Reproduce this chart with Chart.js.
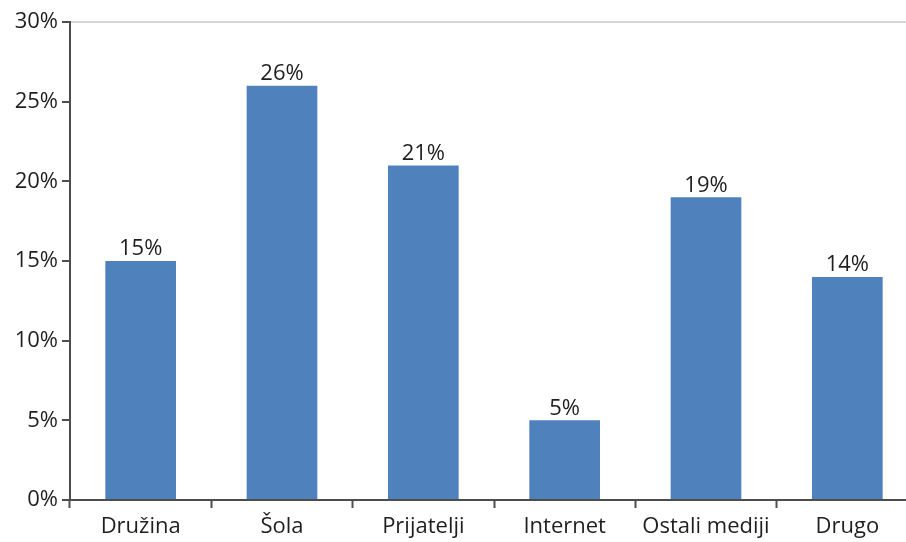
<!DOCTYPE html>
<html>
<head>
<meta charset="utf-8">
<script src="https://cdn.jsdelivr.net/npm/chart.js@4/dist/chart.umd.min.js"></script>
<style>
  html, body { margin: 0; padding: 0; background: #fff; overflow: hidden; }
  #wrap { width: 920px; height: 542px; position: relative; }
</style>
</head>
<body>
<div id="wrap"><canvas id="c"></canvas></div>
<script>
const categories = ['Družina', 'Šola', 'Prijatelji', 'Internet', 'Ostali mediji', 'Drugo'];
const shares = [15, 26, 21, 5, 19, 14];
const yTicks = [0, 5, 10, 15, 20, 25, 30];

const FONT = "'Open Sans', 'Noto Sans', sans-serif";
const TEXT = '#1f1f1f';
const AXIS = '#4d4d4d';

// writes each bar's value just above it
const valueLabels = {
  id: 'valueLabels',
  afterDatasetsDraw(chart) {
    const { ctx } = chart;
    const meta = chart.getDatasetMeta(0);
    ctx.save();
    ctx.font = '22px ' + FONT;
    ctx.fillStyle = TEXT;
    ctx.textAlign = 'center';
    ctx.textBaseline = 'bottom';
    meta.data.forEach((bar, i) => {
      ctx.fillText(shares[i] + '%', bar.x, bar.y - 1);
    });
    ctx.restore();
  }
};

new Chart(document.getElementById('c'), {
  type: 'bar',
  data: {
    labels: categories,
    datasets: [{
      data: shares,
      backgroundColor: '#4f81bd',
      barPercentage: 0.5,
      categoryPercentage: 1.0
    }]
  },
  options: {
    responsive: true,
    maintainAspectRatio: false,
    animation: false,
    layout: { padding: { top: 22, right: 2, left: 0, bottom: 0 } },
    plugins: { legend: { display: false }, tooltip: { enabled: false } },
    scales: {
      x: {
        offset: true,
        grid: {
          offset: true,
          drawOnChartArea: false,
          drawTicks: true,
          tickLength: 8,
          tickColor: AXIS,
          tickWidth: 2
        },
        border: { color: AXIS, width: 2 },
        ticks: {
          color: TEXT,
          font: { family: FONT, size: 22 },
          padding: 6,
          maxRotation: 0,
          autoSkip: false
        },
        afterFit(scale) { scale.height = 42; }
      },
      y: {
        min: 0,
        max: 30,
        afterBuildTicks(scale) { scale.ticks = yTicks.map(v => ({ value: v })); },
        grid: {
          drawOnChartArea: true,
          color: ctx => (ctx.tick && ctx.tick.value === 30) ? '#d6d6d6' : 'rgba(0,0,0,0)',
          lineWidth: 2,
          drawTicks: true,
          tickLength: 8,
          tickColor: AXIS,
          tickWidth: 2
        },
        border: { color: AXIS, width: 2 },
        ticks: {
          color: TEXT,
          font: { family: FONT, size: 22 },
          padding: 4,
          callback: v => v + '%'
        },
        afterFit(scale) { scale.width = 70; }
      }
    }
  },
  plugins: [valueLabels]
});
</script>
</body>
</html>
